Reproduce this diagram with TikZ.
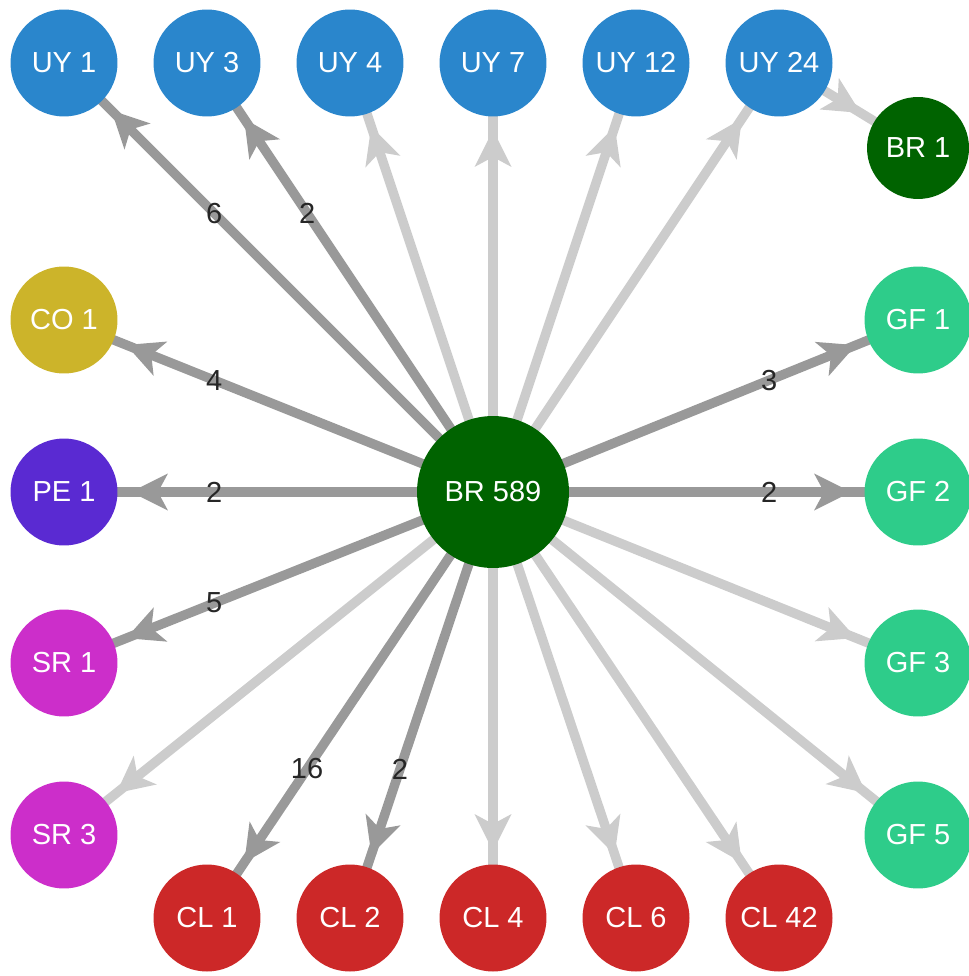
\documentclass[tikz,border=0pt]{standalone}
\usepackage{fontspec}
\setmainfont{Liberation Sans}
\usetikzlibrary{arrows.meta, backgrounds, decorations.markings}
\definecolor{uyblue}{HTML}{2A86CC}
\definecolor{brgreen}{HTML}{006300}
\definecolor{cogold}{HTML}{CCB42A}
\definecolor{pepurple}{HTML}{5A2AD2}
\definecolor{srmagenta}{HTML}{CC2ECA}
\definecolor{clred}{HTML}{CC2828}
\definecolor{gfgreen}{HTML}{2ECC8A}
\definecolor{darkedge}{HTML}{999999}
\definecolor{lightedge}{HTML}{CCCCCC}

\begin{document}
\begin{tikzpicture}[x=0.02cm, y=-0.02cm,
	country/.style={circle, minimum size=2.14cm, inner sep=0pt, text=white, font=\fontsize{16.5}{18}\selectfont},
	hub/.style={country, minimum size=3.04cm},
	link/.style={line width=0.19cm, draw=#1, postaction={decorate},
		decoration={markings, mark=at position -1.34cm with {\arrow{Stealth[length=0.74cm, width=0.74cm, inset=0.2cm, line width=0pt, color=#1]}}}},
	heavy/.style={link=darkedge},
	light/.style={link=lightedge},
	weight/.style={pos=0.65, font=\fontsize{16.5}{18}\selectfont, text=black!85}]
	\useasboundingbox (0,0) rectangle (968,976);

	\node[hub, fill=brgreen] (br589) at (493,492) {BR 589};
	\node[country, fill=uyblue] (uy1) at (64,63) {UY 1};
	\node[country, fill=uyblue] (uy3) at (207,63) {UY 3};
	\node[country, fill=uyblue] (uy4) at (350,63) {UY 4};
	\node[country, fill=uyblue] (uy7) at (493,63) {UY 7};
	\node[country, fill=uyblue] (uy12) at (636,63) {UY 12};
	\node[country, fill=uyblue] (uy24) at (779,63) {UY 24};
	\node[country, fill=brgreen, minimum size=2.04cm] (br1) at (918,148) {BR 1};
	\node[country, fill=cogold] (co1) at (64,320) {CO 1};
	\node[country, fill=pepurple] (pe1) at (64,492) {PE 1};
	\node[country, fill=srmagenta] (sr1) at (64,663) {SR 1};
	\node[country, fill=srmagenta] (sr3) at (64,835) {SR 3};
	\node[country, fill=clred] (cl1) at (207,918) {CL 1};
	\node[country, fill=clred] (cl2) at (350,918) {CL 2};
	\node[country, fill=clred] (cl4) at (493,918) {CL 4};
	\node[country, fill=clred] (cl6) at (636,918) {CL 6};
	\node[country, fill=clred] (cl42) at (779,918) {CL 42};
	\node[country, fill=gfgreen] (gf1) at (918,320) {GF 1};
	\node[country, fill=gfgreen] (gf2) at (918,492) {GF 2};
	\node[country, fill=gfgreen] (gf3) at (918,663) {GF 3};
	\node[country, fill=gfgreen] (gf5) at (918,835) {GF 5};

	\begin{scope}[on background layer]
	% weight one
	\draw[light] (br589.center) -- (uy4.center);
	\draw[light] (br589.center) -- (uy7.center);
	\draw[light] (br589.center) -- (uy12.center);
	\draw[light] (br589.center) -- (uy24.center);
	\draw[light] (uy24.center) -- (br1.center);
	\draw[light] (br589.center) -- (sr3.center);
	\draw[light] (br589.center) -- (cl4.center);
	\draw[light] (br589.center) -- (cl6.center);
	\draw[light] (br589.center) -- (cl42.center);
	\draw[light] (br589.center) -- (gf3.center);
	\draw[light] (br589.center) -- (gf5.center);
	% weighted
	\draw[heavy] (br589.center) -- node[weight] {6} (uy1.center);
	\draw[heavy] (br589.center) -- node[weight] {2} (uy3.center);
	\draw[heavy] (br589.center) -- node[weight] {4} (co1.center);
	\draw[heavy] (br589.center) -- node[weight] {2} (pe1.center);
	\draw[heavy] (br589.center) -- node[weight] {5} (sr1.center);
	\draw[heavy] (br589.center) -- node[weight] {16} (cl1.center);
	\draw[heavy] (br589.center) -- node[weight] {2} (cl2.center);
	\draw[heavy] (br589.center) -- node[weight] {3} (gf1.center);
	\draw[heavy] (br589.center) -- node[weight] {2} (gf2.center);
	\end{scope}
\end{tikzpicture}
\end{document}
